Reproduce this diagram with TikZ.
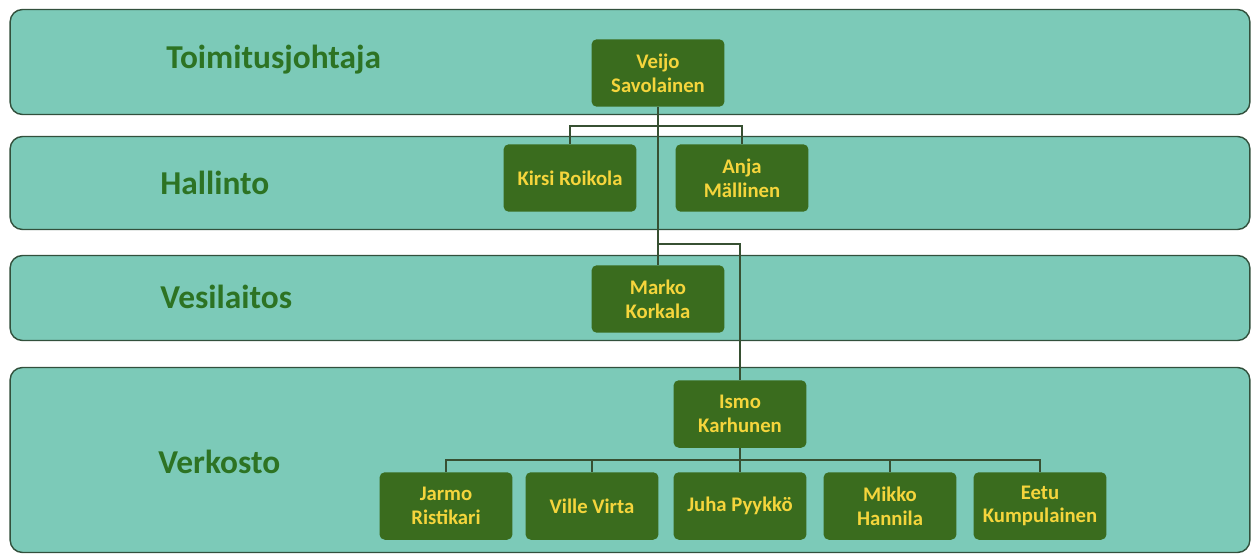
\documentclass[tikz,border=0pt]{standalone}
\usepackage{fontspec}
\setmainfont{Carlito}
\definecolor{bandfill}{RGB}{124,202,184}
\definecolor{bandline}{RGB}{50,80,60}
\definecolor{boxfill}{RGB}{58,108,30}
\definecolor{boxtext}{RGB}{245,213,60}
\definecolor{labeltext}{RGB}{45,115,35}
\definecolor{connline}{RGB}{55,80,50}
\tikzset{
  band/.style={draw=bandline, line width=0.8pt, fill=bandfill, rounded corners=7pt, inner sep=0pt},
  bandlabel/.style={anchor=west, inner sep=0pt, text=labeltext, font=\bfseries\fontsize{19}{22}\selectfont},
  person/.style={fill=boxfill, rounded corners=3pt, text=boxtext, align=center,
    minimum width=2.66cm, minimum height=1.35cm, inner sep=1pt,
    font=\bfseries\fontsize{11.8}{13.5}\selectfont},
  conn/.style={draw=connline, line width=0.8pt}
}
\begin{document}
\begin{tikzpicture}[x=0.02cm, y=-0.02cm]
\useasboundingbox (0,0) rectangle (1252,555);
% bands
\node[band, minimum width=24.8cm, minimum height=2.1cm] (band1) at (630,62) {};
\node[band, minimum width=24.8cm, minimum height=1.86cm] (band2) at (630,183) {};
\node[band, minimum width=24.8cm, minimum height=1.7cm] (band3) at (630,298) {};
\node[band, minimum width=24.8cm, minimum height=3.7cm] (band4) at (630,460) {};
% band labels
\node[bandlabel] (l1) at (166,60) {Toimitusjohtaja};
\node[bandlabel] (l2) at (160,183) {Hallinto};
\node[bandlabel] (l3) at (160,297) {Vesilaitos};
\node[bandlabel] (l4) at (158,462) {Verkosto};
% persons
\node[person] (veijo) at (658,73) {Veijo\\Savolainen};
\node[person] (kirsi) at (570,178) {Kirsi Roikola};
\node[person] (anja) at (742,178) {Anja\\Mällinen};
\node[person] (marko) at (658,299) {Marko\\Korkala};
\node[person] (ismo) at (740,414) {Ismo\\Karhunen};
\node[person] (jarmo) at (446,506) {Jarmo\\Ristikari};
\node[person] (ville) at (592,506) {Ville Virta};
\node[person] (juha) at (740,506) {Juha Pyykkö};
\node[person] (mikko) at (890,506) {Mikko\\Hannila};
\node[person] (eetu) at (1040,506) {Eetu\\Kumpulainen};
% connectors
\coordinate (h1) at (658,126);
\coordinate (v1) at (658,244);
\coordinate (b1) at (740,460);
\draw[conn] (veijo.south) -- (marko.north);
\draw[conn] (kirsi.north) |- (h1) -| (anja.north);
\draw[conn] (v1) -| (ismo.north);
\draw[conn] (ismo.south) -- (b1);
\foreach \n in {jarmo,ville,juha,mikko,eetu} \draw[conn] (b1) -| (\n.north);
\end{tikzpicture}
\end{document}
